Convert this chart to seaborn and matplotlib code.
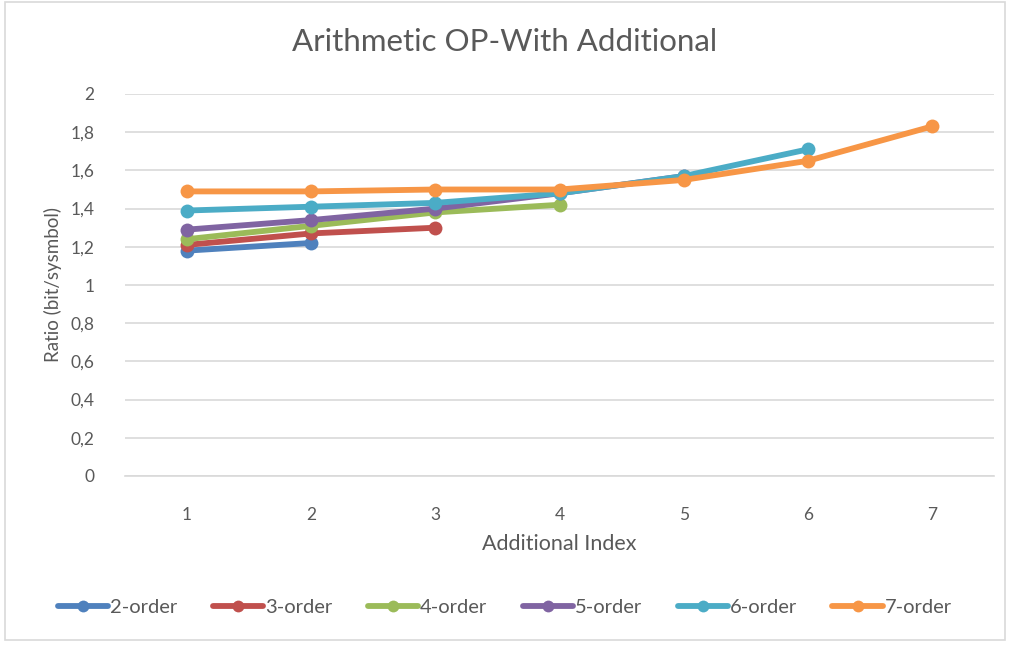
import matplotlib
matplotlib.use("Agg")
import matplotlib.pyplot as plt
from matplotlib.patches import Rectangle
from matplotlib.ticker import FixedLocator, FuncFormatter
import pandas as pd
import seaborn as sns

# Compression ratio per additional index, one list per model order
additional_index = [1, 2, 3, 4, 5, 6, 7]
order_2 = [1.18, 1.22]
order_3 = [1.21, 1.27, 1.30]
order_4 = [1.24, 1.31, 1.38, 1.42]
order_5 = [1.29, 1.34, 1.40, 1.48, 1.57]
order_6 = [1.39, 1.41, 1.43, 1.48, 1.57, 1.71]
order_7 = [1.49, 1.49, 1.50, 1.50, 1.55, 1.65, 1.83]
series_names = ["2-order", "3-order", "4-order", "5-order", "6-order", "7-order"]
series_values = [order_2, order_3, order_4, order_5, order_6, order_7]
y_ticks = [0, 0.2, 0.4, 0.6, 0.8, 1.0, 1.2, 1.4, 1.6, 1.8, 2.0]

colors = ["#4F81BD", "#C0504D", "#9BBB59", "#8064A2", "#4BACC6", "#F79646"]

rows = []
for name, vals in zip(series_names, series_values):
    for x, v in zip(additional_index, vals):
        rows.append({"Additional Index": x, "Ratio": v, "Order": name})
df = pd.DataFrame(rows)

sns.set_theme(style="white")
plt.rcParams["font.family"] = ["Lato", "DejaVu Sans"]
text_color = "#595959"

fig = plt.figure(figsize=(10.1, 6.49), dpi=100)
ax = fig.add_axes([125 / 1010, (649 - 476) / 649, (994 - 125) / 1010, (476 - 94) / 649])

sns.lineplot(
    data=df, x="Additional Index", y="Ratio", hue="Order",
    hue_order=series_names, palette=colors, marker="o",
    markersize=10, markeredgewidth=0, linewidth=4.2,
    ax=ax, legend=False, sort=False,
)

ax.set_xlim(0.5, 7.5)
ax.set_ylim(0, 2)
ax.yaxis.set_major_locator(FixedLocator(y_ticks))
ax.yaxis.set_major_formatter(FuncFormatter(lambda v, p: ("%g" % round(v, 1)).replace(".", ",")))
ax.set_xticks(additional_index)
ax.grid(axis="y", color="#D9D9D9", linewidth=1.2)
ax.set_axisbelow(True)
for s in ["left", "right", "top"]:
    ax.spines[s].set_visible(False)
ax.spines["bottom"].set_color("#D9D9D9")
ax.spines["bottom"].set_linewidth(1.2)
ax.tick_params(axis="both", length=0, labelsize=12.5, colors=text_color)
ax.tick_params(axis="x", pad=22)
ax.tick_params(axis="y", pad=22)

ax.set_xlabel("Additional Index", fontsize=15.5, color=text_color, labelpad=8)
ax.set_ylabel("Ratio (bit/sysmbol)", fontsize=13.5, color=text_color, labelpad=6)
fig.text(0.5, 1 - 42 / 649, "Arithmetic OP-With Additional", ha="center", va="center",
         fontsize=22.5, color=text_color)

handles = [plt.Line2D([], [], color=c, linewidth=4.2, marker="o", markersize=8.5,
                      markeredgewidth=0) for c in colors]
fig.legend(handles, series_names, loc="center", bbox_to_anchor=(0.5, 1 - 607 / 649),
           ncol=6, frameon=False, fontsize=14.5, handlelength=2.5, handletextpad=0.1,
           columnspacing=1.75, labelcolor=text_color)

fig.patches.append(Rectangle((5 / 1010, 1 - 640 / 649), 1000 / 1010, 638 / 649,
                             transform=fig.transFigure, fill=False,
                             edgecolor="#D9D9D9", linewidth=1.2))

fig.savefig("out.png", dpi=100, facecolor="white")
